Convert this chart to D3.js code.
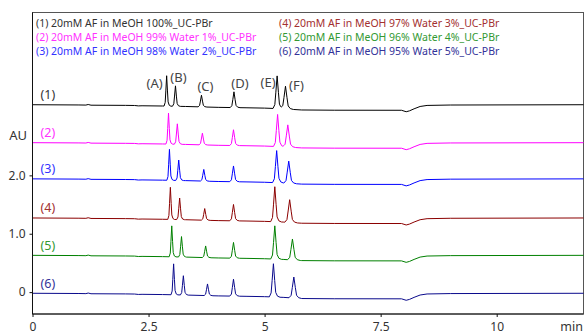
<!DOCTYPE html>
<html>
<head>
<meta charset="utf-8">
<script src="https://cdn.jsdelivr.net/npm/d3@7"></script>
<style>
  html, body { margin: 0; padding: 0; background: #fff; }
  svg { display: block; font-family: "Noto Sans", "DejaVu Sans", sans-serif; }
</style>
</head>
<body>
<svg id="chart" width="586" height="334"></svg>
<script>
// ---- data -------------------------------------------------------------
const traceNames = [
  "20mM AF in MeOH 100%_UC-PBr",
  "20mM AF in MeOH 99% Water 1%_UC-PBr",
  "20mM AF in MeOH 98% Water 2%_UC-PBr",
  "20mM AF in MeOH 97% Water 3%_UC-PBr",
  "20mM AF in MeOH 96% Water 4%_UC-PBr",
  "20mM AF in MeOH 95% Water 5%_UC-PBr"
];
const traceLabels = ["(1)", "(2)", "(3)", "(4)", "(5)", "(6)"];
// vertical stacking offset of each chromatogram (AU)
const traceOffsets = [3.21, 2.56, 1.94, 1.27, 0.63, -0.02];

const peakNames = ["(A)", "(B)", "(C)", "(D)", "(E)", "(F)"];
// retention time (min) of peaks A..F for each run
const peakTimes = [
  [2.89, 3.08, 3.64, 4.34, 5.27, 5.45],
  [2.93, 3.12, 3.66, 4.33, 5.28, 5.50],
  [2.95, 3.15, 3.69, 4.33, 5.26, 5.52],
  [2.97, 3.17, 3.71, 4.33, 5.22, 5.54],
  [3.00, 3.21, 3.73, 4.33, 5.22, 5.60],
  [3.04, 3.25, 3.77, 4.33, 5.19, 5.63]
];
// peak height above the local baseline (AU)
const peakHeights = [
  [0.52, 0.35, 0.20, 0.27, 0.56, 0.39],
  [0.53, 0.35, 0.20, 0.27, 0.55, 0.38],
  [0.53, 0.35, 0.20, 0.27, 0.55, 0.38],
  [0.55, 0.37, 0.20, 0.28, 0.60, 0.39],
  [0.53, 0.35, 0.20, 0.27, 0.57, 0.36],
  [0.53, 0.33, 0.20, 0.29, 0.57, 0.36]
];
// peak width at half height (min), A..F
const peakWidths = [0.035, 0.04, 0.045, 0.05, 0.055, 0.065];
// peak profile: offset from apex in half-height widths -> fraction of height
const profileU = [-1.6, -0.9, -0.5, 0, 0.5, 0.9, 1.6, 2.6];
const profileF = [0, 0.12, 0.5, 1, 0.5, 0.14, 0.03, 0];

// baseline drift shared by the runs (min, AU relative to start)
const baseT = [0, 1.0, 1.15, 1.2, 1.26, 2.0, 2.2, 2.28, 2.36, 2.8, 3.3, 4.0, 4.6, 5.0, 5.4, 5.8, 6.5,
               7.95, 8.05, 8.12, 8.22, 8.35, 8.5, 9.0, 11.87];
const baseV = [0, -0.004, -0.006, 0.004, -0.008, -0.011, -0.013, -0.02, -0.018, -0.022, -0.03, -0.045,
               -0.052, -0.058, -0.07, -0.09, -0.094, -0.095, -0.12, -0.105, -0.07, -0.03, -0.012, -0.005, 0];

const xTicks = [0, 2.5, 5, 7.5, 10];
const yTicks = [0, 1, 2];

const lineColors = ["#000000", "#ff00ff", "#0000ff", "#8b0000", "#008000", "#0a0a8c"];
const textColors = ["#333333", "#ff33ff", "#3333ff", "#a33030", "#339933", "#333399"];

// ---- scales -----------------------------------------------------------
const svg = d3.select("#chart");
const W = 586, H = 334;
const mLeft = 32.5, mRight = 583.5, mTop = 12.5, mBottom = 314;

const x = d3.scaleLinear().domain([0, 11.87]).range([mLeft, mRight]);
const y = d3.scaleLinear().domain([-0.375, 4.79]).range([mBottom, mTop]);
const drift = d3.scaleLinear().domain(baseT).range(baseV).clamp(true);
const profile = d3.scaleLinear().domain(profileU).range(profileF).clamp(true);

svg.append("rect").attr("width", W).attr("height", H).attr("fill", "#fff");

// frame
svg.append("rect")
  .attr("x", mLeft).attr("y", mTop)
  .attr("width", mRight - mLeft).attr("height", mBottom - mTop)
  .attr("fill", "none").attr("stroke", "#555").attr("stroke-width", 1);

// ---- traces -----------------------------------------------------------
const line = d3.line().x(d => x(d[0])).y(d => y(d[1]));

traceOffsets.forEach((off, i) => {
  const ts = new Set(baseT);
  peakTimes[i].forEach((rt, k) => profileU.forEach(u => ts.add(+(rt + u * peakWidths[k]).toFixed(4))));
  const pts = Array.from(ts).sort((a, b) => a - b).map(t => {
    let v = drift(t);
    peakTimes[i].forEach((rt, k) => { v += peakHeights[i][k] * profile((t - rt) / peakWidths[k]); });
    return [t, off + v];
  });
  svg.append("path")
    .datum(pts)
    .attr("d", line)
    .attr("fill", "none")
    .attr("stroke", lineColors[i])
    .attr("stroke-width", 1)
    .attr("stroke-linejoin", "round");
});

// ---- axes -------------------------------------------------------------
const xAxis = svg.append("g")
  .attr("transform", `translate(0,${mBottom})`)
  .call(d3.axisBottom(x).tickValues(xTicks).tickSize(3).tickPadding(5)
    .tickFormat(d => String(d)));
const yAxis = svg.append("g")
  .attr("transform", `translate(${mLeft},0)`)
  .call(d3.axisLeft(y).tickValues(yTicks).tickSize(3).tickPadding(4)
    .tickFormat(d => d === 0 ? "0" : d.toFixed(1)));

[xAxis, yAxis].forEach(g => {
  g.selectAll("path.domain").attr("stroke", "#111");
  g.selectAll(".tick line").attr("stroke", "#111");
  g.selectAll("text").attr("fill", "#333").style("font-size", "12px")
    .style("font-family", "'Noto Sans', sans-serif");
});
xAxis.select("path.domain").attr("d", `M${mLeft},0H${mRight}`);
yAxis.select("path.domain").attr("d", `M0,${mBottom}V${mTop}`);

svg.append("text").attr("x", 27).attr("y", 140).attr("text-anchor", "end")
  .attr("fill", "#333").style("font-size", "13px").text("AU");
svg.append("text").attr("x", 583).attr("y", 331).attr("text-anchor", "end")
  .attr("fill", "#333").style("font-size", "12.5px").text("min");

// ---- legend -----------------------------------------------------------
traceNames.forEach((name, i) => {
  const col = Math.floor(i / 3), row = i % 3;
  svg.append("text")
    .attr("x", col === 0 ? 36 : 279)
    .attr("y", 27 + row * 14)
    .attr("fill", textColors[i])
    .style("font-size", "10.5px")
    .text(`${traceLabels[i]} ${name}`);
});

// run labels at the left of each trace
traceOffsets.forEach((off, i) => {
  svg.append("text")
    .attr("x", 40.5)
    .attr("y", y(off) - 5.5)
    .attr("fill", textColors[i])
    .style("font-size", "12.5px")
    .text(traceLabels[i]);
});

// peak names beside the apexes of run (1)
const peakLabelDx = [-12, 3, 4, 6, -9, 11];
const peakLabelDy = [12.5, -3.5, -4.5, -3.5, 11.5, 4];
peakNames.forEach((p, k) => {
  const rt = peakTimes[0][k];
  const apex = traceOffsets[0] + drift(rt) + peakHeights[0][k];
  svg.append("text")
    .attr("x", x(rt) + peakLabelDx[k])
    .attr("y", y(apex) + peakLabelDy[k])
    .attr("text-anchor", "middle")
    .attr("fill", "#444")
    .style("font-size", "13px")
    .text(p);
});
</script>
</body>
</html>
